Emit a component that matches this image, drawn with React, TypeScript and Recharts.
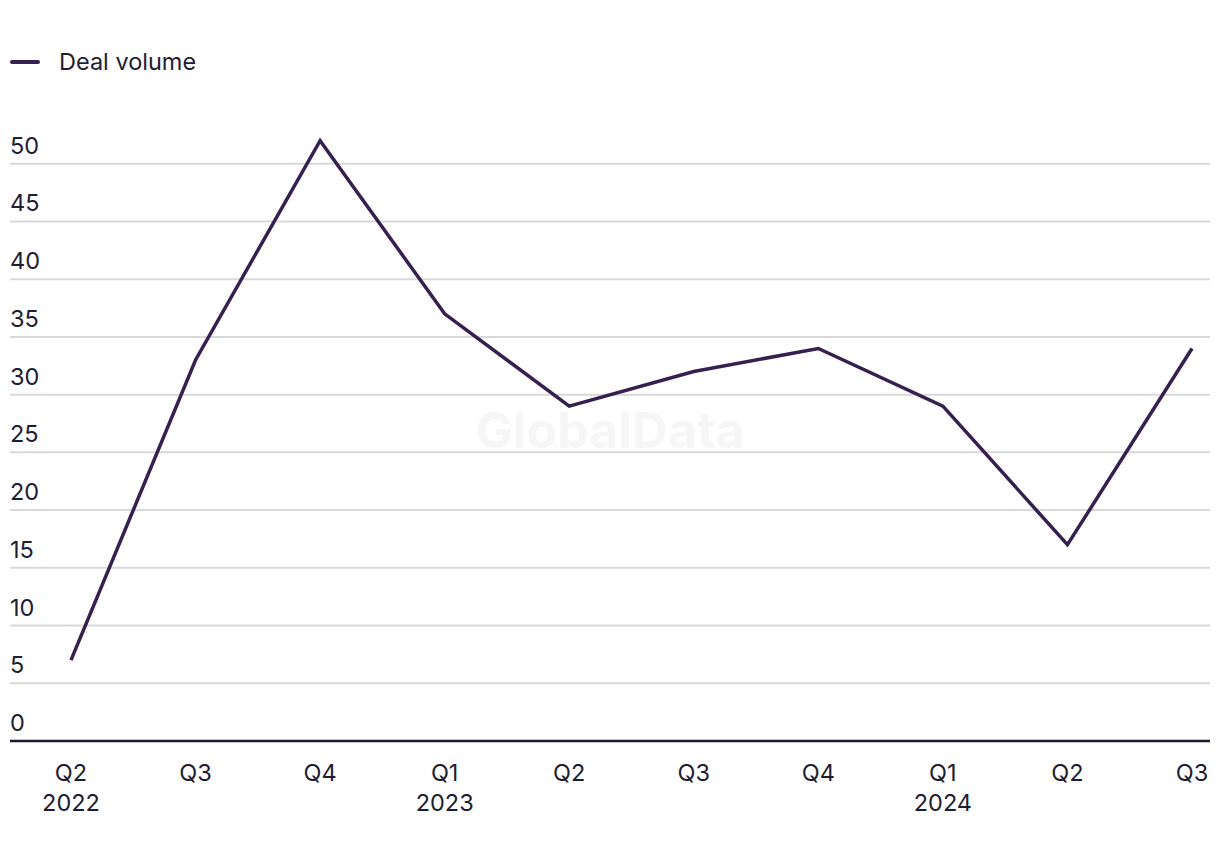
import React from "react";
import { LineChart, Line, XAxis, YAxis, CartesianGrid } from "recharts";

const quarters = ["Q2", "Q3", "Q4", "Q1", "Q2", "Q3", "Q4", "Q1", "Q2", "Q3"];
const years = ["2022", "", "", "2023", "", "", "", "2024", "", ""];
const dealVolume = [7, 33, 52, 37, 29, 32, 34, 29, 17, 34];
const yTicks = [0, 5, 10, 15, 20, 25, 30, 35, 40, 45, 50];

const data = quarters.map((q, i) => ({ key: `${q}-${i}`, q, year: years[i], value: dealVolume[i] }));

const FONT = "Inter, 'Noto Sans', sans-serif";
const TEXT = "#1e1d33";
const LINE = "#35204f";
const FS = 23.5;

const XTick = (props: any) => {
  const { x, y, payload } = props;
  const d = data[payload.index];
  return (
    <g>
      <text x={x} y={y + 32} textAnchor="middle" fill={TEXT} fontSize={FS} fontFamily={FONT}>
        {d ? d.q : ""}
      </text>
      {d && d.year ? (
        <text x={x} y={y + 62} textAnchor="middle" fill={TEXT} fontSize={FS} fontFamily={FONT}>
          {d.year}
        </text>
      ) : null}
    </g>
  );
};

const YTick = (props: any) => {
  const { y, payload } = props;
  return (
    <text x={10} y={y - 10} textAnchor="start" fill={TEXT} fontSize={FS} fontFamily={FONT}>
      {payload.value}
    </text>
  );
};

export default function App() {
  return (
    <div style={{ position: "absolute", left: 0, top: 0, width: 1220, height: 862, background: "#fff" }}>
      <div
        style={{
          position: "absolute",
          left: 10,
          top: 47,
          display: "flex",
          alignItems: "center",
          fontFamily: FONT,
          fontSize: FS,
          color: TEXT,
        }}
      >
        <span style={{ display: "inline-block", width: 30, height: 4, borderRadius: 2, background: LINE, marginRight: 19 }} />
        <span>Deal volume</span>
      </div>
      <div
        style={{
          position: "absolute",
          left: 0,
          width: 1220,
          top: 400,
          textAlign: "center",
          fontFamily: FONT,
          fontWeight: 700,
          fontSize: 50,
          color: "#f6f6f6",
        }}
      >
        GlobalData
      </div>
      <LineChart
        width={1220}
        height={862}
        data={data}
        margin={{ top: 106, right: 10, bottom: 0, left: 9 }}
        style={{ position: "absolute", left: 0, top: 0 }}
      >
        <CartesianGrid vertical={false} stroke="#d9d9d9" strokeWidth={2} horizontalValues={yTicks} />
        <XAxis
          dataKey="key"
          height={121}
          padding={{ left: 61, right: 18 }}
          axisLine={{ stroke: "#1a1a2e", strokeWidth: 2.5 }}
          tickLine={false}
          tick={<XTick />}
          interval={0}
        />
        <YAxis
          width={1}
          domain={[0, 55]}
          ticks={yTicks}
          axisLine={false}
          tickLine={false}
          tick={<YTick />}
          interval={0}
        />
        <Line
          type="linear"
          dataKey="value"
          stroke={LINE}
          strokeWidth={3.5}
          dot={false}
          activeDot={false}
          isAnimationActive={false}
        />
      </LineChart>
    </div>
  );
}
